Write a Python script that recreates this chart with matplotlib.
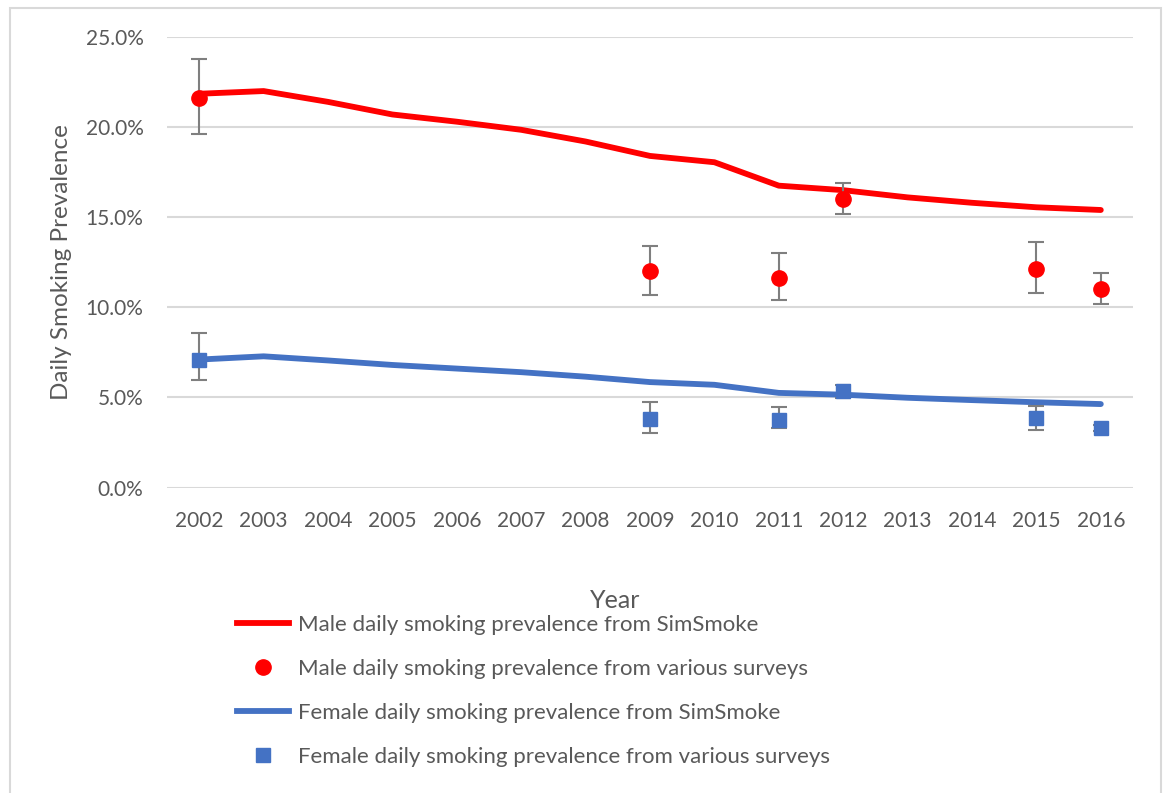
import matplotlib.pyplot as plt
from matplotlib.lines import Line2D
from matplotlib.patches import Rectangle
from matplotlib.ticker import PercentFormatter

plt.rcParams['font.family'] = ['Lato', 'DejaVu Sans']

years = list(range(2002, 2017))
male_sim = [21.85, 22.0, 21.4, 20.7, 20.3, 19.85, 19.2, 18.4, 18.05, 16.75, 16.5, 16.1, 15.8, 15.55, 15.4]
female_sim = [7.1, 7.28, 7.05, 6.8, 6.6, 6.4, 6.15, 5.85, 5.7, 5.25, 5.15, 4.98, 4.85, 4.73, 4.63]

survey_years = [2002, 2009, 2011, 2012, 2015, 2016]
male_survey = [21.6, 12.0, 11.6, 16.0, 12.1, 11.0]
male_low = [19.6, 10.7, 10.4, 15.2, 10.8, 10.2]
male_high = [23.8, 13.4, 13.0, 16.9, 13.6, 11.9]
female_survey = [7.1, 3.8, 3.75, 5.35, 3.85, 3.3]
female_low = [5.95, 3.0, 3.3, 4.95, 3.2, 3.15]
female_high = [8.6, 4.75, 4.45, 5.7, 4.5, 3.45]

red = '#FF0000'
blue = '#4472C4'
gray = '#595959'

fig = plt.figure(figsize=(11.63, 7.93), dpi=100)
ax = fig.add_axes([167 / 1163, (793 - 487.5) / 793, 966 / 1163, 450.5 / 793])

ax.plot(years, male_sim, color=red, lw=4.2, solid_capstyle='round', zorder=3)
ax.plot(years, female_sim, color=blue, lw=4.2, solid_capstyle='round', zorder=3)

m_err = [[v - lo for v, lo in zip(male_survey, male_low)], [hi - v for v, hi in zip(male_survey, male_high)]]
f_err = [[v - lo for v, lo in zip(female_survey, female_low)], [hi - v for v, hi in zip(female_survey, female_high)]]
ax.errorbar(survey_years, male_survey, yerr=m_err, fmt='o', color=red, ms=11, ecolor='#7f7f7f',
            elinewidth=1.5, capsize=6, capthick=1.5, zorder=4)
ax.errorbar(survey_years, female_survey, yerr=f_err, fmt='s', color=blue, ms=10, ecolor='#7f7f7f',
            elinewidth=1.5, capsize=6, capthick=1.5, zorder=4)

ax.set_xlim(2001.5, 2016.5)
ax.set_ylim(0, 25)
ax.set_xticks(years)
ax.set_yticks([0, 5, 10, 15, 20, 25])
ax.yaxis.set_major_formatter(PercentFormatter(decimals=1))
ax.grid(axis='y', color='#d9d9d9', lw=1.5)
ax.set_axisbelow(True)
for s in ax.spines.values():
    s.set_visible(False)
ax.tick_params(length=0, labelsize=15, labelcolor=gray)
ax.tick_params(axis='y', pad=17)
ax.tick_params(axis='x', pad=17)

fig.text(62 / 1163, 1 - 262 / 793, 'Daily Smoking Prevalence', rotation=90, ha='center', va='center',
         fontsize=17.5, color=gray)
fig.text(615 / 1163, 1 - 600 / 793, 'Year', ha='center', va='center', fontsize=18, color=gray)

handles = [
    Line2D([], [], color=red, lw=4.2),
    Line2D([], [], color=red, marker='o', ls='none', ms=11),
    Line2D([], [], color=blue, lw=4.2),
    Line2D([], [], color=blue, marker='s', ls='none', ms=10),
]
labels = [
    'Male daily smoking prevalence from SimSmoke',
    'Male daily smoking prevalence from various surveys',
    'Female daily smoking prevalence from SimSmoke',
    'Female daily smoking prevalence from various surveys',
]
leg = fig.legend(handles, labels, loc='upper left', bbox_to_anchor=(237 / 1163, 1 - 615 / 793),
                 frameon=False, fontsize=16, labelcolor=gray, handlelength=2.35, handletextpad=0.4,
                 labelspacing=1.08, borderpad=0, borderaxespad=0)

fig.patches.append(Rectangle((10 / 1163, -0.05), 1151 / 1163, 1.05 - 8 / 793, transform=fig.transFigure,
                             fill=False, edgecolor='#d9d9d9', lw=1.5))

fig.savefig('out.png', dpi=100)
